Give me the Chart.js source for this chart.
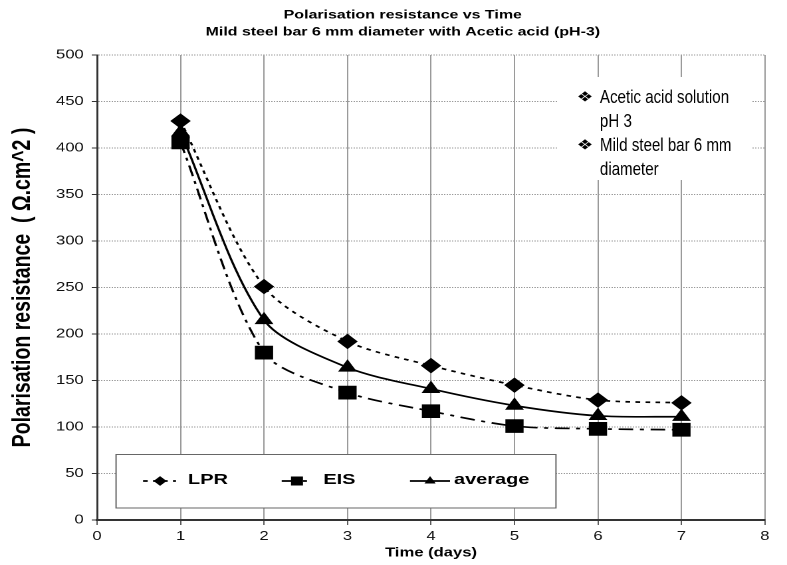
<!DOCTYPE html>
<html>
<head>
<meta charset="utf-8">
<title>Polarisation resistance vs Time</title>
<script src="https://cdn.jsdelivr.net/npm/chart.js@4/dist/chart.umd.min.js"></script>
<style>
  html, body { margin: 0; padding: 0; background: #fff; overflow: hidden; }
  /* the reference picture is stretched sideways, so draw narrow and stretch */
  #wrap { width: 592px; height: 565px; transform: scaleX(1.32939); transform-origin: 0 0; }
</style>
</head>
<body>
<div id="wrap"><canvas id="myChart"></canvas></div>
<script>
var days = [1, 2, 3, 4, 5, 6, 7];
var lprValues = [429, 251, 192, 166, 145, 129, 126];
var eisValues = [406, 180, 137, 117, 101, 98, 97];
var averageValues = [417, 215, 164, 141, 123, 112, 111];

var xRange = [0, 8];
var yRange = [0, 500];
var yStep = 50;

var titleLines = ['Polarisation resistance vs Time', 'Mild steel bar 6 mm diameter with Acetic acid (pH-3)'];
var xTitle = 'Time (days)';
var yTitle = 'Polarisation resistance  ( \u03A9.cm^2 )';
var notes = [['Acetic acid solution', 'pH 3'], ['Mild steel bar 6 mm', 'diameter']];

function points(values) {
    return days.map(function (d, i) { return { x: d, y: values[i] }; });
}

function drawMarker(ctx, style, x, y, r) {
    ctx.beginPath();
    if (style === 'rectRot') {
        ctx.moveTo(x, y - r); ctx.lineTo(x + r, y); ctx.lineTo(x, y + r); ctx.lineTo(x - r, y);
    } else if (style === 'rect') {
        var s = r * Math.SQRT1_2;
        ctx.rect(x - s, y - s, 2 * s, 2 * s);
    } else {
        ctx.moveTo(x, y - r); ctx.lineTo(x + r * 0.866, y + r / 2); ctx.lineTo(x - r * 0.866, y + r / 2);
    }
    ctx.closePath();
    ctx.fill();
}

// white text box with the notes, and the boxed legend at the bottom
var boxesPlugin = {
    id: 'boxes',
    beforeDatasetsDraw: function (chart) {
        var ctx = chart.ctx;
        ctx.save();
        ctx.fillStyle = '#fff';
        ctx.fillRect(419.7, 77, 146, 103);

        ctx.fillStyle = '#000';
        ctx.textBaseline = 'middle';
        var y = 98;
        notes.forEach(function (lines) {
            ctx.font = '14px "DejaVu Sans"';
            ctx.textAlign = 'center';
            ctx.fillText('\u2756', 440, y);
            ctx.font = '18px "Liberation Sans", Arial, sans-serif';
            ctx.textAlign = 'left';
            lines.forEach(function (line) {
                ctx.save();
                ctx.translate(451.3, y);
                ctx.scale(0.63, 1);
                ctx.fillText(line, 0, 0);
                ctx.restore();
                y += 24;
            });
        });

        // legend
        ctx.fillStyle = '#fff';
        ctx.fillRect(87.3, 454, 330.9, 54);
        ctx.strokeStyle = '#666';
        ctx.lineWidth = 1;
        ctx.strokeRect(87.3, 454.5, 330.9, 53.5);

        var slots = [
            { x1: 107.6, x2: 132.4, m: 120.4, t: 141.4 },
            { x1: 211.9, x2: 233.7, m: 223.4, t: 243.2 },
            { x1: 308.4, x2: 338.5, m: 323.5, t: 341.5 }
        ];
        chart.data.datasets.forEach(function (ds, i) {
            var s = slots[i];
            var ly = 481;
            ctx.strokeStyle = '#000';
            ctx.lineWidth = ds.borderWidth;
            ctx.setLineDash(ds.borderDash || []);
            ctx.beginPath();
            ctx.moveTo(s.x1, ly);
            ctx.lineTo(s.x2, ly);
            ctx.stroke();
            ctx.setLineDash([]);
            ctx.fillStyle = '#000';
            drawMarker(ctx, ds.pointStyle, s.m, ly, ds.pointRadius * 0.75);
            ctx.font = 'bold 15px "Liberation Sans", Arial, sans-serif';
            ctx.textAlign = 'left';
            ctx.fillText(ds.label, s.t, 480);
        });
        ctx.restore();
    }
};

var ctx = document.getElementById('myChart').getContext('2d');
Chart.defaults.font.family = '"Liberation Sans", Arial, sans-serif';
Chart.defaults.color = '#000';

window.myChart = new Chart(ctx, {
    type: 'line',
    data: {
        datasets: [{
            label: 'LPR',
            data: points(lprValues),
            borderColor: '#000',
            backgroundColor: '#000',
            borderWidth: 1.7,
            borderDash: [3.5, 4],
            pointStyle: 'rectRot',
            pointRadius: 6.5,
            tension: 0.3
        }, {
            label: 'EIS',
            data: points(eisValues),
            borderColor: '#000',
            backgroundColor: '#000',
            borderWidth: 1.7,
            borderDash: [11, 5, 3, 5],
            pointStyle: 'rect',
            pointRadius: 8.5,
            tension: 0.3
        }, {
            label: 'average',
            data: points(averageValues),
            borderColor: '#000',
            backgroundColor: '#000',
            borderWidth: 1.7,
            pointStyle: 'triangle',
            pointRadius: 6.5,
            tension: 0.3
        }]
    },
    options: {
        responsive: true,
        maintainAspectRatio: false,
        devicePixelRatio: 2,
        animation: false,
        layout: { padding: { left: 30.6, right: 16.6, top: 0, bottom: 0 } },
        plugins: {
            legend: { display: false },
            tooltip: { enabled: false },
            title: {
                display: true,
                text: titleLines,
                color: '#000',
                font: { size: 12, weight: 'bold', lineHeight: 1.4167 },
                padding: { top: 6.5, bottom: 14.5 }
            }
        },
        scales: {
            x: {
                type: 'linear',
                min: xRange[0],
                max: xRange[1],
                ticks: { stepSize: 1, padding: 4, font: { size: 12.5 }, color: '#111' },
                grid: { color: '#808080', lineWidth: 0.8, tickColor: '#333', tickLength: 5, tickWidth: 0.8 },
                border: { color: '#333', width: 2 },
                title: { display: true, text: xTitle, font: { size: 12.5, weight: 'bold' }, padding: { top: 0, bottom: 4.5 } },
                afterFit: function (scale) { scale.height = 45; }
            },
            y: {
                min: yRange[0],
                max: yRange[1],
                ticks: { stepSize: yStep, padding: 6, font: { size: 12.5 }, color: '#111' },
                grid: { color: '#999', lineWidth: 1, tickColor: '#333', tickLength: 4, tickWidth: 1 },
                border: { color: '#333', width: 1.5, dash: [1, 1] },
                title: { display: true, text: yTitle, font: { size: 19.5, weight: 'bold' }, padding: { top: -25, bottom: 0 } },
                afterFit: function (scale) { scale.width = 42.4; }
            }
        }
    },
    plugins: [boxesPlugin]
});
</script>
</body>
</html>
